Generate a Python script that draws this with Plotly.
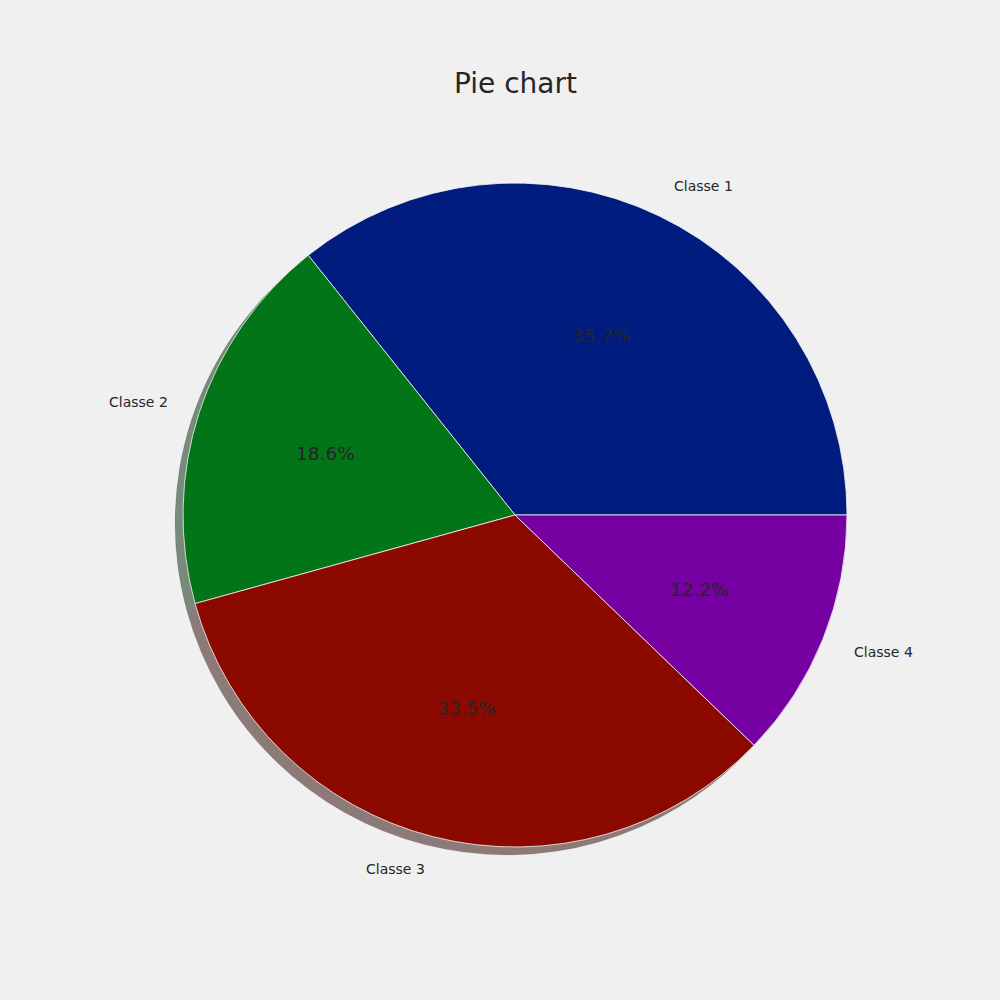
import math
import plotly.graph_objects as go

labels = ["Classe 1", "Classe 2", "Classe 3", "Classe 4"]
values = [35.7, 18.6, 33.5, 12.2]
colors = ["#001C7F", "#017517", "#8C0900", "#7600A1"]
shadow_colors = ["#78808B", "#788A7C", "#8D7A78", "#897890"]
title = "Pie chart"

W = H = 1000
cx, cy, R = 515, 515, 332   # pie centre / radius in pixels
shadow_dx, shadow_dy = -8, 8

total = sum(values)
# first wedge starts at 3 o'clock and wedges go counterclockwise
rotation = 90 - values[0] / total * 360

def dom(dx=0, dy=0):
    return dict(x=[(cx - R + dx) / W, (cx + R + dx) / W],
                y=[1 - (cy + R + dy) / H, 1 - (cy - R + dy) / H])

fig = go.Figure()
common = dict(labels=labels, values=values, sort=False, direction="counterclockwise",
              rotation=rotation, textinfo="none", hoverinfo="skip", showlegend=False)
fig.add_trace(go.Pie(**common, domain=dom(shadow_dx, shadow_dy),
                     marker=dict(colors=shadow_colors, line=dict(color="rgba(0,0,0,0.15)", width=0.5))))
fig.add_trace(go.Pie(**common, domain=dom(),
                     marker=dict(colors=colors, line=dict(color="#F5F5F5", width=0.8))))

start = 0.0
annotations = []
for lab, v in zip(labels, values):
    mid = math.radians((start + v / 2) / total * 360)
    start += v
    c, s = math.cos(mid), math.sin(mid)
    # outer label
    lx, ly = cx + 1.1 * R * c, cy - 1.1 * R * s
    annotations.append(dict(x=lx / W, y=1 - ly / H, xref="paper", yref="paper", text=lab,
                            showarrow=False, xanchor="left" if c > 0 else "right", yanchor="middle",
                            borderpad=0, borderwidth=0,
                            font=dict(family="DejaVu Sans", size=14, color="#262626")))
    # percentage
    px, py = cx + 0.6 * R * c, cy - 0.6 * R * s
    annotations.append(dict(x=px / W, y=1 - py / H, xref="paper", yref="paper",
                            text=f"{v / total * 100:.1f}%", showarrow=False,
                            xanchor="center", yanchor="middle", borderpad=0, borderwidth=0,
                            font=dict(family="DejaVu Sans", size=18.5, color="#262626")))

annotations.append(dict(x=cx / W, y=1 - 84 / H, xref="paper", yref="paper", text=title,
                        showarrow=False, xanchor="center", yanchor="middle",
                        font=dict(family="DejaVu Sans", size=28, color="#262626")))

fig.update_layout(width=W, height=H, margin=dict(l=0, r=0, t=0, b=0),
                  paper_bgcolor="#F0F0F0", plot_bgcolor="#F0F0F0",
                  annotations=annotations)
fig.write_html("out.html", config={"displayModeBar": False},
               post_script="document.body.style.margin='0';")
